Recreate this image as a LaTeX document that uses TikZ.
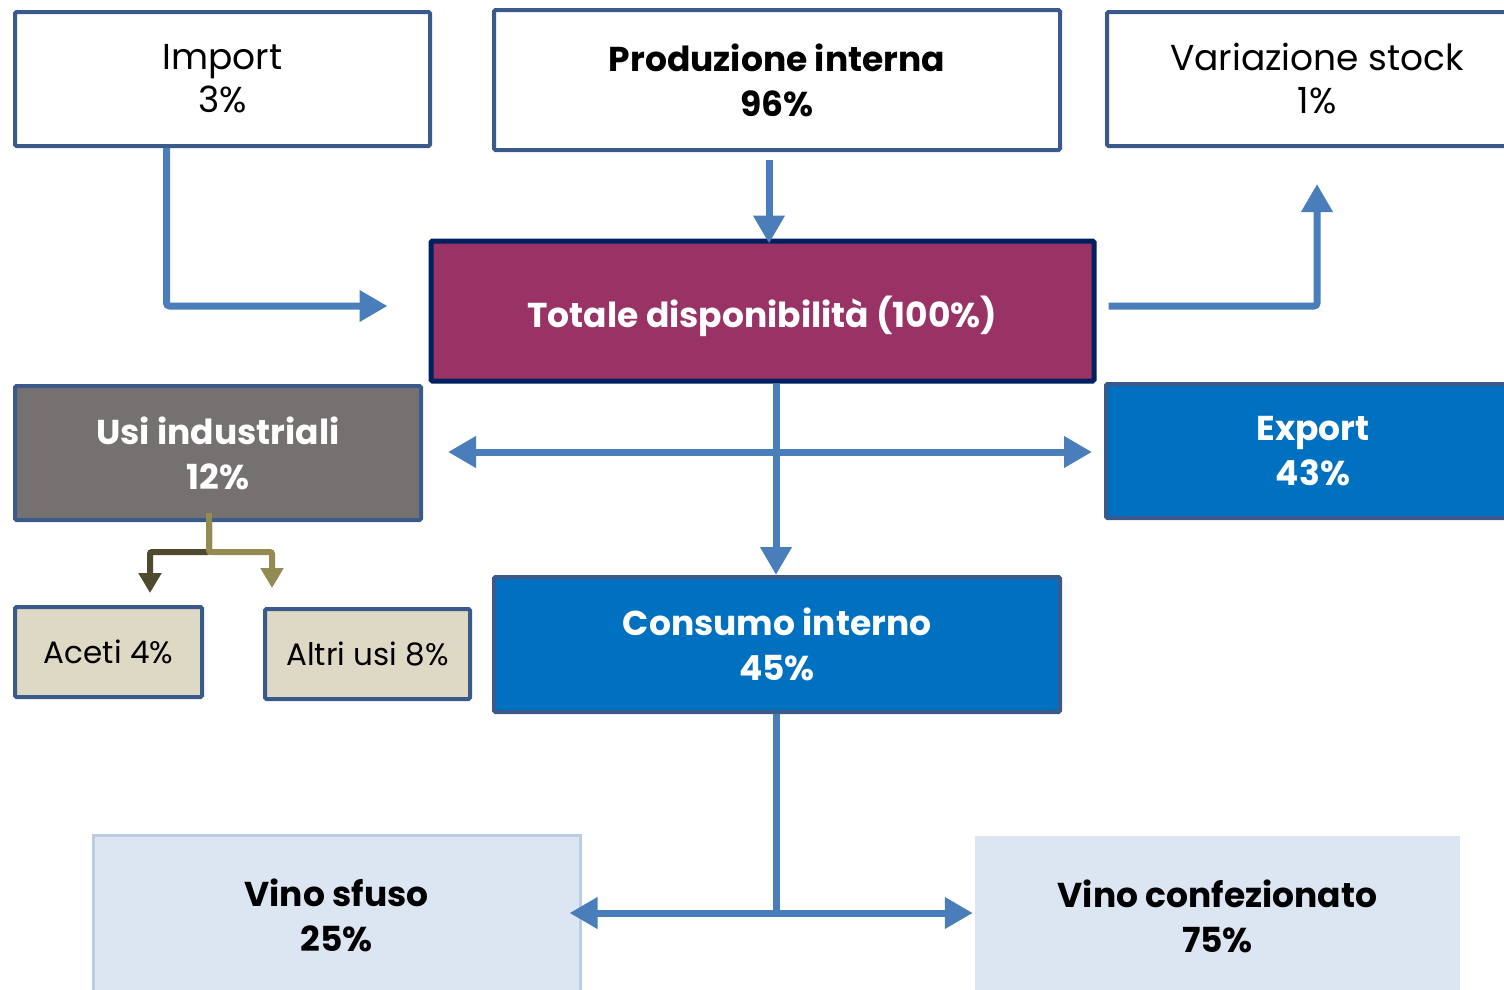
\documentclass[tikz,border=0pt]{standalone}
\usepackage{fontspec}
\setmainfont{Poppins}
\usetikzlibrary{arrows.meta}
\definecolor{edgeblue}{HTML}{3A5A8C}
\definecolor{flowblue}{HTML}{4A7EBB}
\definecolor{plum}{HTML}{993366}
\definecolor{navy}{HTML}{002060}
\definecolor{greybox}{HTML}{767171}
\definecolor{bluebox}{HTML}{0070C0}
\definecolor{beige}{HTML}{DDD9C4}
\definecolor{paleblue}{HTML}{DCE6F2}
\definecolor{paleedge}{HTML}{B9CDE5}
\definecolor{olivedark}{HTML}{4F4A2E}
\definecolor{olivelight}{HTML}{948A54}
\tikzset{
  box/.style={draw=edgeblue, line width=4pt, rounded corners=1.5pt, align=center, inner sep=0pt},
  txt/.style={font=\fontsize{36}{43}\selectfont},
  btxt/.style={font=\fontsize{34.5}{45}\selectfont\bfseries, execute at begin node={\rule{0pt}{30pt}}},
  stxt/.style={font=\fontsize{31}{37}\selectfont},
  flow/.style={draw=flowblue, line width=7pt, -{Triangle[width=30pt,length=28pt]}},
  flowplain/.style={draw=flowblue, line width=7pt},
  subflow/.style={line width=6pt, -{Triangle[width=22pt,length=20pt]}, rounded corners=2pt},
}
\begin{document}
\begin{tikzpicture}[x=1pt,y=-1pt]
\useasboundingbox (0,0) rectangle (1504,989);
% nodes
\node[box, txt, fill=white, minimum width=415pt, minimum height=134pt] (imp) at (222.5,79) {Import\\3\%};
\node[box, btxt, fill=white, minimum width=566pt, minimum height=140pt] (prod) at (777,80) {Produzione interna\\96\%};
\node[box, txt, fill=white, minimum width=420pt, minimum height=134pt] (var) at (1317,79) {Variazione stock\\1\%};
\node[box, btxt, execute at begin node={\rule{0pt}{42pt}}, draw=navy, line width=5pt, fill=plum, text=white, minimum width=663pt, minimum height=140pt] (tot) at (762.5,311) {Totale disponibilità (100\%)};
\node[box, btxt, fill=greybox, text=white, minimum width=406pt, minimum height=134pt] (usi) at (218,453) {Usi industriali\\12\%};
\node[box, btxt, fill=bluebox, text=white, minimum width=414pt, minimum height=134pt] (exp) at (1313,451) {Export\\43\%};
\node[box, stxt, fill=beige, minimum width=187pt, minimum height=90pt] (ace) at (108.5,652) {Aceti 4\%};
\node[box, stxt, fill=beige, minimum width=205pt, minimum height=90pt] (alt) at (367.5,654) {Altri usi 8\%};
\node[box, btxt, fill=bluebox, text=white, minimum width=566pt, minimum height=135pt] (cons) at (777,644.5) {Consumo interno\\45\%};
\node[box, btxt, draw=paleedge, line width=3pt, rounded corners=0pt, fill=paleblue, minimum width=487pt, minimum height=160pt] (sfu) at (336.5,915) {Vino sfuso\\25\%};
\node[btxt, fill=paleblue, align=center, inner sep=0pt, minimum width=485pt, minimum height=160pt] (conf) at (1217.5,916) {Vino confezionato\\75\%};
% helper coordinates
\coordinate (impin) at ([xshift=-41pt, yshift=5pt]tot.west);
\coordinate (varup) at ([yshift=-36pt]var.south);
\coordinate (junc) at (776,452);
\coordinate (usiin) at ([xshift=25pt]usi.east |- junc);
\coordinate (expin) at ([xshift=-12pt]exp.west |- junc);
\coordinate (split) at (776,913);
\coordinate (usibr) at (209,552);
% connectors
\draw[flow, rounded corners=3pt] ([xshift=-56pt]imp.south) |- (impin);
\draw[flow] ([xshift=-8pt, yshift=-8pt]prod.south) -- ([xshift=-8pt, yshift=-5pt]prod.south |- tot.north);
\draw[flow, rounded corners=3pt] ([xshift=12pt, yshift=5pt]tot.east) -| (varup);
\draw[flow] ([xshift=13.5pt]tot.south) -- (cons.north -| split);
\draw[flow] (junc) -- (usiin);
\draw[flow] (junc) -- (expin);
\draw[flowplain] ([xshift=-1pt]cons.south) -- (split);
\draw[flow] ([xshift=3.5pt]split) -- ([xshift=-12pt]sfu.east |- split);
\draw[flow] ([xshift=-3.5pt]split) -- ([xshift=-2pt]conf.west |- split);
\draw[subflow, draw=olivedark]
  ([yshift=9pt]usi.south -| usibr) -- (usibr) -| ([yshift=12pt]ace.north -| 150,0);
\draw[subflow, draw=olivelight]
  ([yshift=9pt]usi.south -| usibr) -- (usibr) -| ([yshift=19pt]alt.north -| 272,0);
\end{tikzpicture}
\end{document}
